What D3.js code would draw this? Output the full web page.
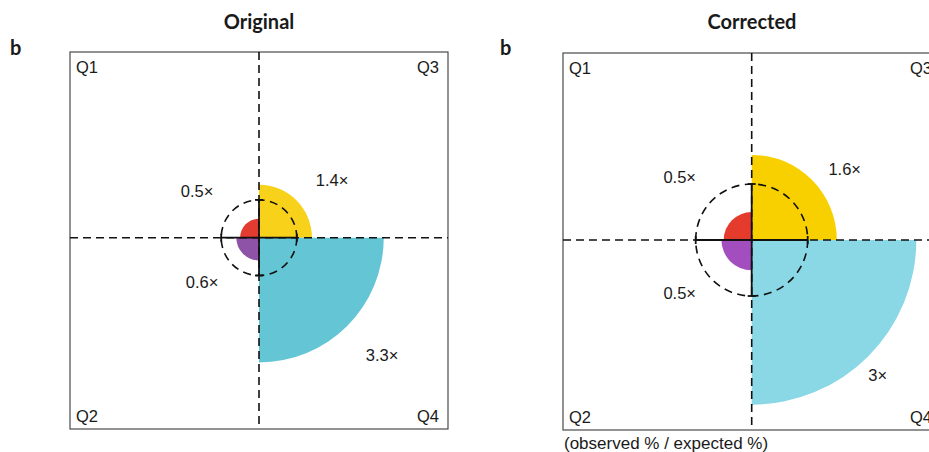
<!DOCTYPE html>
<html>
<head>
<meta charset="utf-8">
<script src="https://cdn.jsdelivr.net/npm/d3@7"></script>
<style>
  body { margin: 0; background: #fff; }
</style>
</head>
<body>
<svg id="chart" width="929" height="452"></svg>
<script>
// quadrant names, in draw order
var quadrants = ["Q1", "Q2", "Q3", "Q4"];

// ratio observed / expected per quadrant (radius of the quarter disc)
var originalRatios = [0.5, 0.6, 1.4, 3.3],
	correctedRatios = [0.5, 0.54, 1.52, 2.94];

var originalLabels = ["0.5×", "0.6×", "1.4×", "3.3×"],
	correctedLabels = ["0.5×", "0.5×", "1.6×", "3×"];

var originalColors = ["#E23B2F", "#8E52A6", "#F7D11A", "#64C5D5"],
	correctedColors = ["#E53B2D", "#A34EBF", "#F8D000", "#8AD7E5"];

// start angle of each quarter (d3.arc: 0 = 12 o'clock, clockwise)
var quarterStart = {Q1: 1.5 * Math.PI, Q2: Math.PI, Q3: 0, Q4: 0.5 * Math.PI};

var boxSize = 378;
var SANS = "'Liberation Sans', Arimo, Helvetica, Arial, sans-serif",
	BOLD = "Lato, 'Open Sans', sans-serif";

var panels = [
	{title: "Original", left: 70, top: 52, cx: 259, cy: 237.7, unit: 37.8,
		ratios: originalRatios, labels: originalLabels, colors: originalColors,
		labelOffsets: [[-62, -41], [-57, 50], [73, -52], [123, 123]], tagX: 10, footnote: false},
	{title: "Corrected", left: 563, top: 53, cx: 751.7, cy: 240, unit: 56,
		ratios: correctedRatios, labels: correctedLabels, colors: correctedColors,
		labelOffsets: [[-72, -57], [-72, 59], [93, -65], [126, 141]], tagX: 500, footnote: true}
];

var svg = d3.select("#chart");

panels.forEach(function(p){
	var g = svg.append("g");
	var r = d3.scaleLinear().domain([0, 1]).range([0, p.unit]);

	g.append("text")
		.attr("x", p.left + boxSize / 2)
		.attr("y", 29)
		.attr("text-anchor", "middle")
		.attr("font-family", BOLD)
		.attr("font-weight", 700)
		.attr("font-size", "20px")
		.attr("fill", "#1a1a1a")
		.text(p.title);

	g.append("text")
		.attr("x", p.tagX)
		.attr("y", 55)
		.attr("font-family", BOLD)
		.attr("font-weight", 700)
		.attr("font-size", "20px")
		.attr("fill", "#1a1a1a")
		.text("b");

	g.append("rect")
		.attr("x", p.left)
		.attr("y", p.top)
		.attr("width", boxSize)
		.attr("height", boxSize - 1)
		.attr("fill", "none")
		.attr("stroke", "#4a4a4a")
		.attr("stroke-width", 1.2);

	// quarter discs
	var arc = d3.arc().innerRadius(0);
	g.selectAll(".quarter")
		.data(quadrants).enter()
		.append("path")
		.attr("class", "quarter")
		.attr("transform", "translate(" + p.cx + "," + p.cy + ")")
		.attr("d", function(q, i){
			return arc({outerRadius: r(p.ratios[i]), startAngle: quarterStart[q], endAngle: quarterStart[q] + Math.PI / 2});
		})
		.attr("fill", function(q, i){ return p.colors[i]; });

	// dashed cross through the box
	g.append("line")
		.attr("x1", p.cx).attr("x2", p.cx)
		.attr("y1", p.top).attr("y2", p.top + boxSize - 1)
		.attr("stroke", "#111").attr("stroke-width", 1.6)
		.attr("stroke-dasharray", "8,5");
	g.append("line")
		.attr("x1", p.left).attr("x2", p.left + boxSize)
		.attr("y1", p.cy).attr("y2", p.cy)
		.attr("stroke", "#111").attr("stroke-width", 1.6)
		.attr("stroke-dasharray", "8,5");

	// expected (1x) circle
	g.append("circle")
		.attr("cx", p.cx).attr("cy", p.cy)
		.attr("r", r(1))
		.attr("fill", "none")
		.attr("stroke", "#111").attr("stroke-width", 1.6)
		.attr("stroke-dasharray", "8,5.5");

	// solid 1x cross with end ticks
	var one = r(1), tick = 4;
	var solid = [
		[p.cx - one, p.cy, p.cx + one, p.cy],
		[p.cx, p.cy - one, p.cx, p.cy + one],
		[p.cx - one, p.cy - tick, p.cx - one, p.cy + tick],
		[p.cx + one, p.cy - tick, p.cx + one, p.cy + tick],
		[p.cx - tick, p.cy - one, p.cx + tick, p.cy - one],
		[p.cx - tick, p.cy + one, p.cx + tick, p.cy + one]
	];
	g.selectAll(".solid").data(solid).enter()
		.append("line")
		.attr("class", "solid")
		.attr("x1", function(d){ return d[0]; })
		.attr("y1", function(d){ return d[1]; })
		.attr("x2", function(d){ return d[2]; })
		.attr("y2", function(d){ return d[3]; })
		.attr("stroke", "#111").attr("stroke-width", 1.8);

	// ratio labels
	g.selectAll(".ratio").data(p.labels).enter()
		.append("text")
		.attr("class", "ratio")
		.attr("x", function(d, i){ return p.cx + p.labelOffsets[i][0]; })
		.attr("y", function(d, i){ return p.cy + p.labelOffsets[i][1]; })
		.attr("text-anchor", "middle")
		.attr("font-family", SANS)
		.attr("font-size", "16.5px")
		.attr("fill", "#1a1a1a")
		.text(function(d){ return d; });

	// quadrant names in the corners
	var corners = {Q1: [p.left + 6, p.top + 21, "start"], Q2: [p.left + 6, p.top + 370, "start"],
		Q3: [p.left + boxSize - 9, p.top + 21, "end"], Q4: [p.left + boxSize - 9, p.top + 370, "end"]};
	g.selectAll(".qname").data(quadrants).enter()
		.append("text")
		.attr("class", "qname")
		.attr("x", function(q){ return corners[q][0]; })
		.attr("y", function(q){ return corners[q][1]; })
		.attr("text-anchor", function(q){ return corners[q][2]; })
		.attr("font-family", SANS)
		.attr("font-size", "16.5px")
		.attr("fill", "#1a1a1a")
		.text(function(q){ return q; });

	if(p.footnote){
		g.append("text")
			.attr("x", p.left + 1)
			.attr("y", 449)
			.attr("font-family", SANS)
			.attr("font-size", "17px")
			.attr("fill", "#1a1a1a")
			.text("(observed % / expected %)");
	}
});
</script>
</body>
</html>
